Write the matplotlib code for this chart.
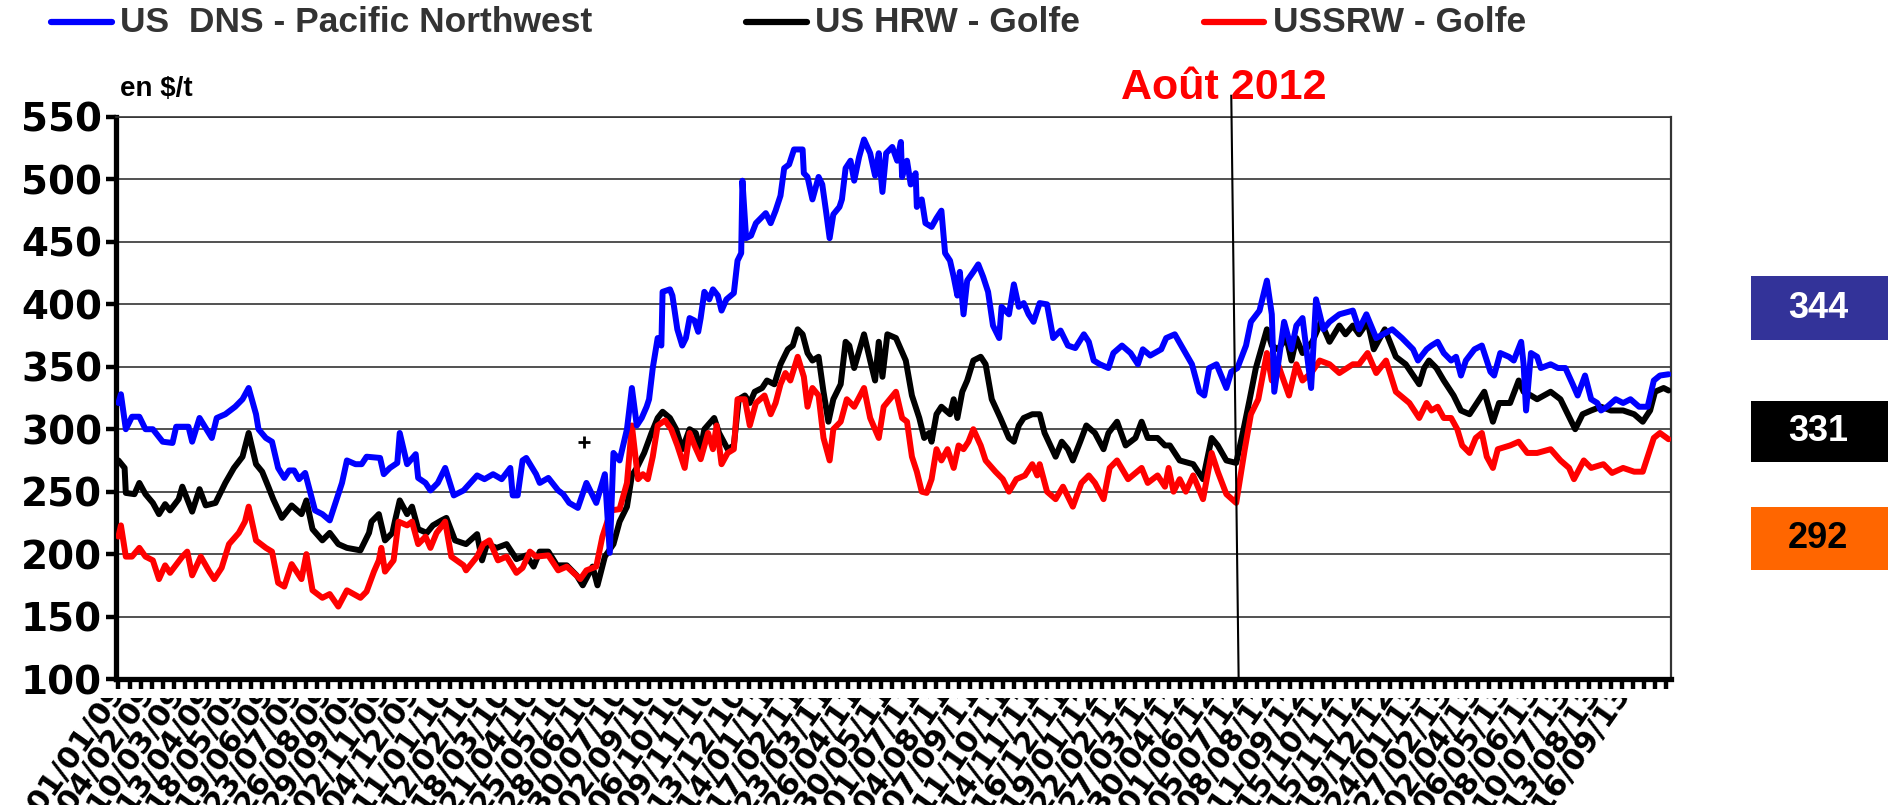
import numpy as np
import matplotlib
matplotlib.use("Agg")
import matplotlib.pyplot as plt
from matplotlib.lines import Line2D
from matplotlib.patches import Rectangle
from matplotlib.transforms import Bbox, TransformedBbox, blended_transform_factory, offset_copy

# ---------------- data (day index = trading-day count from 01/01/2009) ----------------
date_labels = [
    "01/01/09", "04/02/09", "10/03/09", "13/04/09", "18/05/09", "19/06/09", "23/07/09", "26/08/09",
    "29/09/09", "02/11/09", "04/12/09",
    "11/01/10", "12/02/10", "18/03/10", "21/04/10", "25/05/10", "28/06/10", "30/07/10", "02/09/10",
    "06/10/10", "09/11/10", "13/12/10",
    "14/01/11", "17/02/11", "23/03/11", "26/04/11", "30/05/11", "01/07/11", "04/08/11", "07/09/11",
    "11/10/11", "14/11/11", "16/12/11",
    "19/01/12", "22/02/12", "27/03/12", "30/04/12", "01/06/12", "05/07/12", "08/08/12", "11/09/12",
    "15/10/12", "15/11/12", "19/12/12",
    "24/01/13", "27/02/13", "02/04/13", "06/05/13", "08/06/13", "10/07/13", "13/08/13", "16/09/13",
]
label_step_days = 24

dns_day = [
    0, 2, 6, 11, 17, 22, 28, 36, 44, 47,
    57, 60, 66, 76, 80, 87, 95, 101, 106, 112,
    114, 120, 125, 130, 135, 139, 143, 147, 152, 160,
    166, 172, 176, 182, 186, 193, 198, 202, 213, 216,
    221, 227, 229, 235, 242, 244, 250, 254, 260, 266,
    273, 281, 292, 298, 305, 312, 319, 321, 325, 329,
    332, 340, 343, 350, 358, 362, 367, 374, 381, 389,
    396, 400, 403, 408, 414, 418, 422, 426, 430, 432,
    435, 439, 442, 443, 449, 451, 455, 459, 462, 465,
    469, 472, 474, 477, 481, 484, 488, 491, 495, 501,
    504, 507, 508, 511, 515, 519, 523, 527, 531, 535,
    539, 542, 546, 550, 557, 558, 561, 565, 570, 573,
    576, 579, 582, 587, 589, 592, 596, 599, 603, 607,
    612, 616, 619, 622, 625, 630, 634, 637, 638, 642,
    645, 649, 650, 654, 657, 662, 666, 670, 673, 677,
    680, 683, 685, 688, 691, 696, 700, 704, 708, 712,
    717, 719, 725, 729, 733, 737, 741, 745, 750, 756,
    761, 767, 773, 779, 786, 790, 794, 799, 806, 810,
    817, 824, 830, 834, 840, 849, 853, 860, 867, 874,
    880, 884, 888, 894, 902, 906, 911, 918, 922, 929,
    935, 939, 941, 949, 955, 959, 964, 971, 975, 981,
    986, 994, 1005, 1010, 1016, 1024, 1037, 1045, 1054, 1058,
    1065, 1069, 1074, 1079, 1085, 1089, 1093, 1097, 1104, 1110,
    1117, 1120, 1125, 1132, 1136, 1142, 1144, 1146, 1150, 1155,
    1158, 1166, 1172, 1178, 1184, 1188, 1194, 1199, 1204, 1207,
    1212, 1219, 1225, 1231, 1238, 1245, 1250, 1255, 1262,
]
dns_price = [
    321, 328, 300, 310, 310, 300, 300, 290, 289, 302,
    302, 290, 309, 293, 309, 312, 318, 324, 333, 312,
    300, 293, 290, 269, 261, 267, 267, 260, 265, 235,
    232, 227, 239, 257, 275, 272, 272, 278, 277, 264,
    269, 273, 297, 272, 280, 261, 257, 251, 257, 269,
    247, 251, 263, 260, 264, 260, 269, 247, 247, 275,
    277, 264, 257, 261, 251, 248, 241, 237, 257, 241,
    264, 201, 281, 275, 300, 333, 303, 309, 318, 324,
    349, 373, 367, 410, 412, 407, 380, 367, 373, 389,
    387, 378, 389, 410, 404, 412, 407, 395, 404, 409,
    435, 441, 499, 453, 455, 465, 469, 473, 465, 475,
    487, 509, 512, 524, 524, 505, 502, 484, 502, 496,
    475, 453, 472, 478, 484, 509, 515, 499, 518, 532,
    521, 503, 521, 490, 521, 526, 515, 530, 502, 515,
    496, 505, 478, 484, 465, 462, 469, 475, 441, 435,
    422, 407, 426, 392, 419, 426, 432, 422, 410, 383,
    373, 398, 392, 416, 398, 401, 392, 386, 401, 400,
    373, 379, 367, 365, 376, 370, 355, 352, 349, 361,
    367, 361, 352, 364, 359, 364, 373, 376, 364, 352,
    330, 327, 349, 352, 333, 346, 349, 367, 386, 395,
    419, 392, 330, 386, 364, 383, 389, 333, 404, 380,
    386, 392, 395, 380, 392, 373, 380, 373, 364, 355,
    364, 367, 370, 361, 355, 358, 343, 355, 364, 367,
    346, 343, 361, 358, 355, 370, 352, 315, 361, 358,
    349, 352, 349, 349, 336, 327, 343, 324, 321, 315,
    318, 324, 321, 324, 318, 318, 339, 343, 344,
]

hrw_day = [
    0, 5, 6, 13, 17, 22, 28, 33, 38, 42,
    49, 52, 60, 66, 71, 79, 87, 94, 101, 106,
    112, 117, 122, 126, 133, 141, 149, 153, 158, 166,
    172, 179, 186, 197, 204, 206, 212, 217, 223, 225,
    229, 235, 239, 244, 251, 256, 263, 267, 274, 283,
    292, 296, 300, 308, 316, 324, 332, 338, 343, 350,
    357, 365, 373, 378, 386, 390, 396, 403, 408, 414,
    418, 422, 428, 434, 439, 443, 449, 454, 459, 465,
    470, 474, 477, 485, 489, 496, 501, 505, 510, 514,
    518, 524, 528, 534, 539, 545, 549, 553, 557, 561,
    565, 570, 574, 578, 582, 588, 592, 595, 599, 607,
    612, 616, 619, 622, 626, 633, 637, 641, 646, 652,
    656, 660, 662, 666, 670, 677, 680, 683, 687, 691,
    696, 702, 706, 711, 718, 725, 729, 733, 737, 744,
    750, 754, 763, 768, 773, 777, 783, 788, 795, 802,
    806, 813, 820, 828, 833, 838, 846, 852, 856, 864,
    875, 883, 890, 895, 902, 910, 916, 921, 926, 935,
    939, 944, 951, 955, 959, 964, 972, 979, 986, 994,
    999, 1005, 1010, 1017, 1022, 1031, 1040, 1048, 1059, 1063,
    1067, 1073, 1079, 1087, 1093, 1100, 1106, 1112, 1119, 1124,
    1133, 1140, 1144, 1150, 1155, 1166, 1174, 1180, 1186, 1192,
    1199, 1207, 1215, 1225, 1234, 1241, 1247, 1251, 1258, 1262,
]
hrw_price = [
    275, 269, 249, 248, 257, 248, 241, 232, 240, 235,
    244, 254, 234, 252, 239, 241, 257, 269, 278, 297,
    272, 266, 254, 244, 229, 239, 232, 243, 220, 211,
    217, 208, 205, 203, 217, 226, 232, 211, 217, 226,
    243, 232, 238, 220, 217, 223, 227, 229, 211, 208,
    216, 195, 208, 205, 208, 196, 199, 190, 202, 202,
    191, 191, 183, 175, 190, 175, 198, 208, 226, 238,
    263, 269, 281, 297, 309, 314, 309, 300, 284, 300,
    297, 284, 300, 309, 297, 284, 287, 324, 327, 321,
    330, 333, 339, 336, 352, 364, 367, 380, 376, 361,
    355, 358, 330, 306, 324, 336, 370, 367, 349, 376,
    355, 339, 370, 342, 376, 373, 364, 355, 327, 309,
    293, 297, 290, 312, 318, 312, 324, 309, 330, 339,
    355, 358, 352, 324, 309, 293, 290, 303, 309, 312,
    312, 297, 278, 290, 284, 275, 290, 303, 297, 284,
    297, 306, 287, 293, 306, 293, 293, 287, 287, 275,
    272, 260, 293, 287, 275, 273, 300, 324, 349, 380,
    367, 364, 373, 355, 373, 361, 370, 386, 370, 383,
    376, 383, 376, 386, 364, 380, 358, 352, 336, 349,
    355, 349, 339, 327, 315, 312, 321, 330, 306, 321,
    321, 339, 330, 327, 324, 330, 324, 312, 300, 312,
    315, 318, 315, 315, 312, 306, 315, 330, 333, 331,
]

srw_day = [
    0, 2, 6, 11, 17, 22, 28, 33, 38, 42,
    52, 56, 60, 67, 74, 78, 84, 90, 98, 103,
    106, 112, 120, 125, 130, 135, 141, 147, 149, 153,
    158, 166, 172, 179, 186, 197, 202, 208, 212, 214,
    217, 224, 228, 235, 239, 244, 250, 254, 259, 266,
    271, 281, 283, 292, 297, 302, 309, 316, 324, 329,
    335, 340, 350, 358, 365, 376, 381, 389, 394, 401,
    408, 414, 418, 423, 427, 431, 435, 439, 445, 450,
    455, 461, 465, 469, 474, 480, 484, 487, 491, 496,
    501, 504, 510, 514, 519, 526, 531, 535, 539, 543,
    547, 553, 558, 561, 565, 570, 574, 579, 582, 588,
    593, 599, 607, 612, 619, 623, 633, 638, 642, 646,
    650, 654, 658, 662, 666, 670, 675, 680, 684, 688,
    692, 696, 702, 706, 714, 720, 725, 731, 738, 744,
    748, 750, 756, 763, 769, 777, 784, 790, 795, 802,
    807, 813, 822, 833, 838, 846, 852, 855, 859, 864,
    869, 875, 883, 890, 895, 902, 910, 917, 922, 928,
    935, 939, 944, 953, 959, 964, 971, 978, 986, 994,
    1005, 1010, 1017, 1024, 1032, 1040, 1051, 1059, 1065, 1069,
    1074, 1079, 1085, 1090, 1094, 1100, 1105, 1110, 1114, 1119,
    1123, 1133, 1140, 1147, 1155, 1166, 1174, 1181, 1185, 1193,
    1199, 1209, 1216, 1225, 1234, 1241, 1245, 1250, 1255, 1262,
]
srw_price = [
    214, 223, 198, 198, 205, 198, 195, 180, 191, 185,
    198, 202, 183, 198, 186, 180, 189, 208, 217, 226,
    238, 211, 205, 202, 177, 174, 192, 183, 180, 200,
    171, 165, 168, 158, 171, 165, 170, 186, 195, 205,
    186, 195, 226, 223, 226, 208, 214, 205, 217, 226,
    198, 191, 187, 198, 208, 211, 195, 198, 185, 189,
    202, 198, 199, 187, 190, 180, 187, 190, 214, 235,
    236, 257, 303, 260, 264, 260, 278, 303, 307, 300,
    287, 269, 297, 287, 276, 297, 284, 303, 272, 281,
    284, 324, 324, 303, 321, 327, 312, 321, 336, 345,
    339, 358, 342, 318, 333, 327, 293, 275, 300, 306,
    324, 318, 333, 309, 293, 318, 330, 309, 306, 278,
    266, 250, 249, 260, 284, 275, 284, 269, 287, 284,
    290, 300, 287, 275, 266, 260, 250, 260, 263, 272,
    263, 272, 250, 244, 254, 238, 257, 263, 257, 244,
    269, 275, 260, 269, 257, 263, 254, 269, 250, 260,
    250, 263, 244, 281, 266, 248, 241, 284, 312, 324,
    361, 339, 352, 327, 352, 339, 345, 355, 352, 345,
    352, 352, 361, 345, 355, 330, 321, 309, 321, 315,
    318, 309, 309, 300, 287, 281, 293, 297, 278, 269,
    284, 287, 290, 281, 281, 284, 275, 269, 260, 275,
    269, 272, 265, 269, 266, 266, 278, 293, 297, 292,
]

plus_day = [379]
plus_price = [290]

series_names = ["US  DNS - Pacific Northwest", "US HRW - Golfe", "USSRW - Golfe"]
series_colors = ["#0000FF", "#000000", "#FF0000"]
box_colors = ["#333399", "#000000", "#FF6600"]
box_text_colors = ["white", "white", "black"]
y_ticks = [100, 150, 200, 250, 300, 350, 400, 450, 500, 550]
event_label = "Août 2012"
event_day = [906, 912]
event_level = [567, 100]
unit_label = "en $/t"

# ---------------- figure ----------------
W, H = 1888, 805
fig = plt.figure(figsize=(W / 100, H / 100), dpi=100)
fig.patch.set_facecolor("white")


def fx(px):
    return px / W


def fy(py):
    return 1 - py / H


ax = fig.add_axes([fx(116), fy(679), fx(1671) - fx(116), fy(117) - fy(679)])
ax.set_facecolor("white")

LW = 4.3
ax.plot(hrw_day, hrw_price, color=series_colors[1], lw=LW, solid_joinstyle="round",
        solid_capstyle="round", zorder=3)
ax.plot(srw_day, srw_price, color=series_colors[2], lw=LW, solid_joinstyle="round",
        solid_capstyle="round", zorder=4)
ax.plot(dns_day, dns_price, color=series_colors[0], lw=LW, solid_joinstyle="round",
        solid_capstyle="round", zorder=5)
ax.plot(plus_day, plus_price, marker="+", color="black", ms=9, mew=2, ls="none", zorder=6)

ax.set_xlim(-2, 1264)
ax.set_ylim(100, 550)
ax.set_yticks(y_ticks)
ax.set_yticklabels([str(v) for v in y_ticks], fontfamily="DejaVu Sans", fontweight="bold", fontsize=28)
ax.yaxis.grid(True, color="#333333", lw=1.2)
ax.set_axisbelow(True)

ax.set_xticks([])
ax.set_xticks(np.arange(0, 1263, 9), minor=True)
ax.tick_params(axis="x", which="minor", length=7, width=3.2, color="black", direction="out")
ax.tick_params(axis="y", which="major", length=7, width=3.2, color="black", direction="out", pad=3)

for side in ["left", "bottom"]:
    ax.spines[side].set_linewidth(3.8)
    ax.spines[side].set_color("black")
ax.spines["right"].set_linewidth(1.6)
ax.spines["right"].set_color("#333333")
ax.spines["top"].set_linewidth(1.2)
ax.spines["top"].set_color("#333333")

# x date labels, rotated and clipped just under the tick marks (as in the source chart)
lab_trans = offset_copy(blended_transform_factory(ax.transData, ax.transAxes), fig=fig, x=2, y=-8, units="dots")
clip_bb = TransformedBbox(Bbox([[0, 0], [1, fy(698)]]), fig.transFigure)
for i, lab in enumerate(date_labels):
    t = fig.text(i * label_step_days, 0, lab, transform=lab_trans, rotation=55, rotation_mode="anchor",
                 ha="right", va="center", fontfamily="DejaVu Sans", fontweight="bold", fontsize=22,
                 color="black")
    t.set_clip_box(clip_bb)
    t.set_clip_on(True)

# event line + label
ax.plot(event_day, event_level, color="black", lw=1.5, clip_on=False, zorder=7)
fig.text(fx(1224), fy(88), event_label, ha="center", va="center", color="#FF0000",
         fontfamily="Liberation Sans", fontweight="bold", fontsize=31)

# unit
fig.text(fx(120), fy(89), unit_label, ha="left", va="center", color="black",
         fontfamily="Liberation Sans", fontweight="bold", fontsize=20)

# legend (top row)
leg_line_x = [(51, 112), (746, 807), (1204, 1264)]
leg_text_x = [120, 815, 1273]
for (x0, x1), tx, name, col in zip(leg_line_x, leg_text_x, series_names, series_colors):
    fig.add_artist(Line2D([fx(x0), fx(x1)], [fy(22), fy(22)], color=col, lw=4.5,
                          solid_capstyle="round", transform=fig.transFigure))
    fig.text(fx(tx), fy(23), name, ha="left", va="center", color="#333333",
             fontfamily="Liberation Sans", fontweight="bold", fontsize=25.5)

# last-value boxes
last_values = [dns_price[-1], hrw_price[-1], srw_price[-1]]
box_rows = [(276, 340), (401, 462), (507, 570)]
for (y0, y1), val, bc, tc in zip(box_rows, last_values, box_colors, box_text_colors):
    fig.add_artist(Rectangle((fx(1751), fy(y1)), fx(1888) - fx(1751), fy(y0) - fy(y1),
                             facecolor=bc, edgecolor="none", transform=fig.transFigure))
    fig.text(fx(1818), fy((y0 + y1) / 2), str(val), ha="center", va="center", color=tc,
             fontfamily="Liberation Sans", fontweight="bold", fontsize=26)

fig.savefig("out.png", dpi=100, facecolor="white")
